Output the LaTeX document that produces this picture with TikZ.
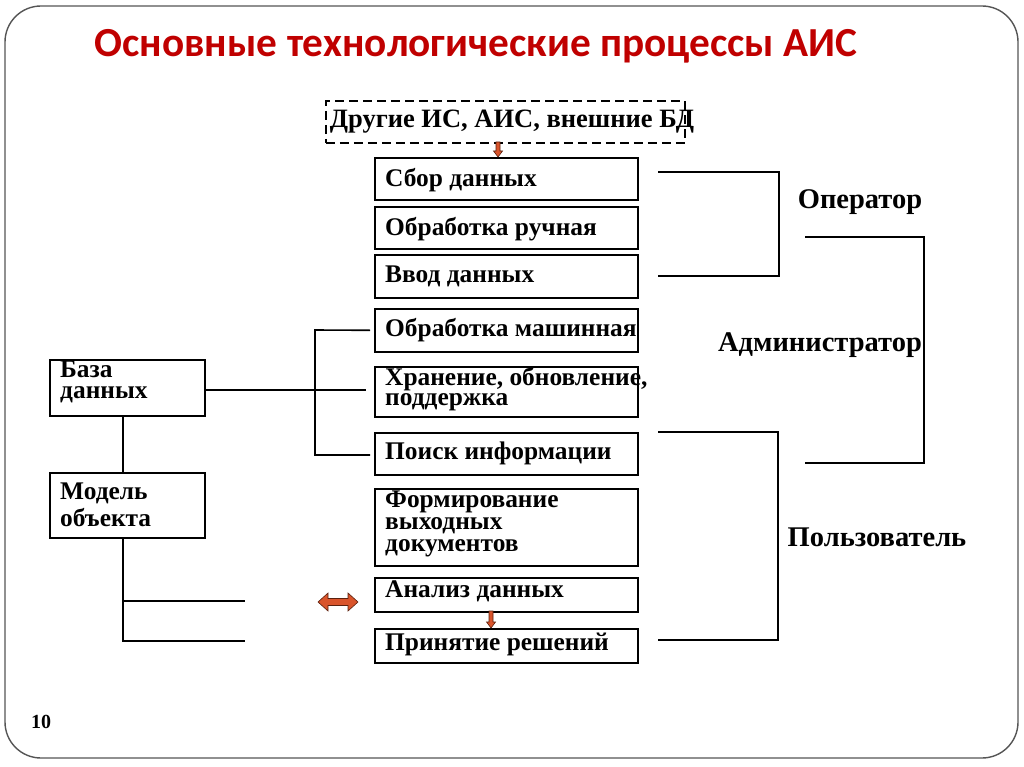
\documentclass[tikz,border=0pt]{standalone}
\usepackage{fontspec}
\setmainfont{Liberation Serif}
\newfontfamily\titlefont{Carlito}
\usetikzlibrary{calc}
\definecolor{titlered}{HTML}{C00000}
\definecolor{arrfill}{HTML}{D9542B}
\definecolor{arrline}{HTML}{5A200E}
\definecolor{framegray}{HTML}{555555}
\newcommand\boxfont{\fontsize{25.4}{21}\selectfont\bfseries}
\newcommand\vblk[3]{% x, ytop, ybottom
  \filldraw[arrfill, draw=arrline, line width=0.6pt]
    (#1-2,#2) -- (#1+2,#2) -- (#1+2,#3-6) -- (#1+4.5,#3-6) -- (#1,#3) -- (#1-4.5,#3-6) -- (#1-2,#3-6) -- cycle;}
\begin{document}
\begin{tikzpicture}[x=1pt,y=-1pt,
  stepbox/.style={draw, line width=1.6pt, anchor=north west, inner sep=0pt},
  lbl/.style={font=\boxfont, anchor=west, inner sep=0pt, align=left},
  role/.style={font=\fontsize{28.5}{30}\selectfont\bfseries, inner sep=0pt},
  conn/.style={line width=1.6pt}]
\fill[white] (0,0) rectangle (1024,767);
\useasboundingbox (0,0) rectangle (1024,767);
\draw[framegray, line width=1.4pt, rounded corners=36pt] (5,6) rectangle (1018,758);

\node[font=\titlefont\fontsize{41.3}{46}\selectfont\bfseries, text=titlered] (title) at (476,46) {Основные технологические процессы АИС};

% dashed source box
\node[stepbox, dashed, dash pattern=on 9pt off 5pt, minimum width=359, minimum height=42] (ext) at (325,100) {};
\node[font=\fontsize{26.5}{28}\selectfont\bfseries, inner sep=0pt] (extt) at (512,122) {Другие ИС, АИС, внешние БД};

% middle column
\node[stepbox, minimum width=263, minimum height=42] (sb) at (374,157) {};
\node[lbl] (sbt) at ($(sb.west)+(11,1)$) {Сбор данных};
\node[stepbox, minimum width=263, minimum height=42] (or) at (374,206) {};
\node[lbl] (ort) at ($(or.west)+(11,1)$) {Обработка ручная};
\node[stepbox, minimum width=263, minimum height=43] (vd) at (374,254) {};
\node[lbl] (vdt) at ($(vd.west)+(11,0)$) {Ввод данных};
\node[stepbox, minimum width=263, minimum height=43] (om) at (374,308) {};
\node[lbl] (omt) at ($(om.west)+(11,0)$) {Обработка машинная};
\node[stepbox, minimum width=263, minimum height=50] (hr) at (374,366) {};
\node[lbl, font=\fontsize{25.4}{20}\selectfont\bfseries] (hrt) at ($(hr.west)+(11,-3)$) {Хранение, обновление,\\поддержка};
\node[stepbox, minimum width=263, minimum height=42] (pi) at (374,432) {};
\node[lbl] (pit) at ($(pi.west)+(11,0)$) {Поиск информации};
\node[stepbox, minimum width=263, minimum height=77] (fd) at (374,488) {};
\node[lbl, font=\fontsize{25.4}{22}\selectfont\bfseries] (fdt) at ($(fd.west)+(11,-3)$) {Формирование\\выходных\\документов};
\node[stepbox, minimum width=263, minimum height=34] (an) at (374,577) {};
\node[lbl] (ant) at ($(an.west)+(11,-3)$) {Анализ данных};
\node[stepbox, minimum width=263, minimum height=34] (pr) at (374,628) {};
\node[lbl] (prt) at ($(pr.west)+(11,-1)$) {Принятие решений};

% left column
\node[stepbox, minimum width=155, minimum height=56] (bd) at (49,359) {};
\node[lbl, anchor=north west, font=\fontsize{25.4}{21}\selectfont\bfseries] (bdt) at ($(bd.north west)+(11,2)$) {База\\данных};
\node[stepbox, minimum width=155, minimum height=65] (mo) at (49,472) {};
\node[lbl, font=\fontsize{25.4}{27}\selectfont\bfseries] (mot) at ($(mo.west)+(11,0)$) {Модель\\объекта};

% roles
\node[role] (op) at (860,202) {Оператор};
\node[role] (adm) at (820,345) {Администратор};
\node[role] (usr) at (877,537) {Пользователь};

\node[font=\fontsize{20}{22}\selectfont\bfseries, inner sep=0pt] (pg) at (41,722) {10};

% connectors
\draw[conn] (bd.east |- 0,390) -- ($(hr.west |- 0,390)+(-8,0)$);
\coordinate (ombr) at ($(om.west)+(-4,0)$);
\coordinate (pibr) at ($(pi.west |- 0,455)+(-4,0)$);
\draw[conn] (ombr) -- (315,330) -- (315,455) -- (pibr);
\draw[conn] (bd.south -| 123,0) -- (mo.north -| 123,0);
\coordinate (c1) at (245,601);
\coordinate (c2) at (245,641);
\draw[conn] (mo.south -| 123,0) |- (c2);
\draw[conn] (c1 -| 123,0) -- (c1);

% role brackets
\coordinate (o1) at (658,172); \coordinate (o2) at (658,276);
\draw[conn] (o1) -- (779,172) -- (779,276) -- (o2);
\coordinate (a1) at (805,237); \coordinate (a2) at (805,463);
\draw[conn] (a1) -- (924,237) -- (924,463) -- (a2);
\coordinate (u1) at (658,432); \coordinate (u2) at (658,640);
\draw[conn] (u1) -- (778,432) -- (778,640) -- (u2);

% block arrows
\vblk{498}{142}{157}
\vblk{491}{611}{628}
\filldraw[arrfill, draw=arrline, line width=0.6pt]
  (318,602) -- (328,593) -- (328,598.5) -- (348,598.5) -- (348,593) -- (358,602)
  -- (348,611) -- (348,605.5) -- (328,605.5) -- (328,611) -- cycle;
\end{tikzpicture}
\end{document}
